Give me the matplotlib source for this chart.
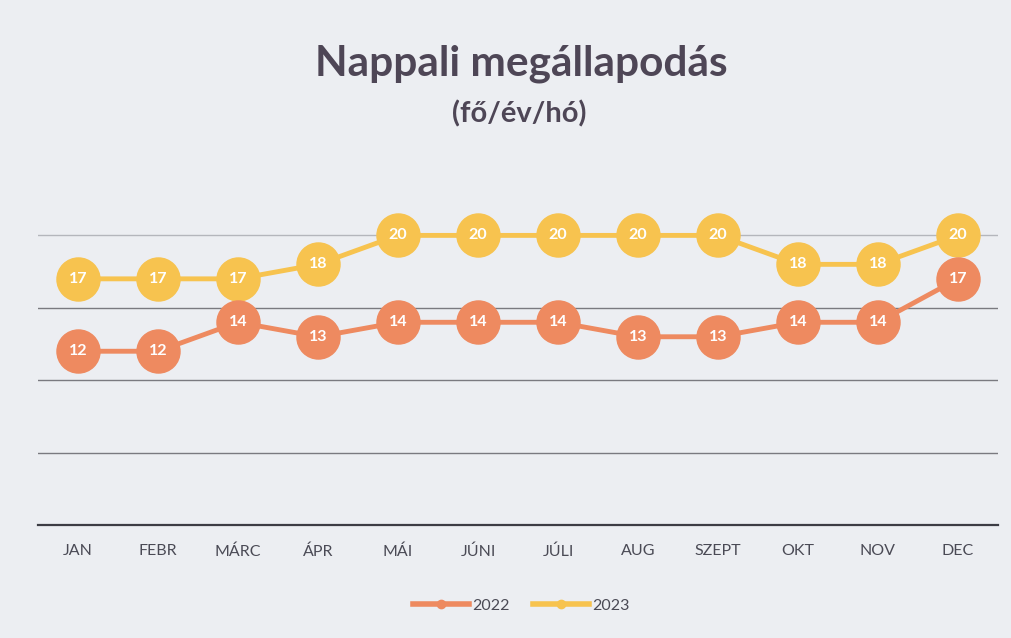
import matplotlib
matplotlib.use("Agg")
import matplotlib.pyplot as plt
from matplotlib.lines import Line2D

months = ["JAN", "FEBR", "MÁRC", "ÁPR", "MÁI", "JÚNI", "JÚLI", "AUG", "SZEPT", "OKT", "NOV", "DEC"]
values_2022 = [12, 12, 14, 13, 14, 14, 14, 13, 13, 14, 14, 17]
values_2023 = [17, 17, 17, 18, 20, 20, 20, 20, 20, 18, 18, 20]
series_names = ["2022", "2023"]

c22 = "#EE8A60"
c23 = "#F7C34F"
bg = "#ECEEF2"

plt.rcParams['font.family'] = ['Lato', 'DejaVu Sans']

fig = plt.figure(figsize=(10.12, 6.38), dpi=100, facecolor=bg)
ax = fig.add_axes([38/1012, 113/638, 960/1012, 362/638])
ax.set_facecolor(bg)

x = list(range(len(months)))
for vals, col, zo in [(values_2023, c23, 3), (values_2022, c22, 4)]:
    ax.plot(x, vals, color=col, lw=3.5, marker='o', markersize=31,
            markerfacecolor=col, markeredgecolor=col, zorder=zo)
    for xi, v in zip(x, vals):
        ax.text(xi, v, str(v), ha='center', va='center', color='white',
                fontsize=11.5, fontweight='bold', zorder=zo + 1)

ax.set_xlim(-0.5, 11.5)
ax.set_ylim(0, 25)
ax.set_yticks([0, 5, 10, 15, 20])
ax.yaxis.grid(True, color='#7a7a80', lw=1.0)
gl = ax.get_ygridlines()
gl[-1].set_color('#b4b6bc')
ax.set_axisbelow(True)
for s in ['top', 'right', 'left']:
    ax.spines[s].set_visible(False)
ax.spines['bottom'].set_color('#3c3c44')
ax.spines['bottom'].set_linewidth(1.6)
ax.tick_params(axis='y', left=False, labelleft=False)
ax.tick_params(axis='x', length=0, pad=14, labelsize=11.5, labelcolor='#4a4a55')
ax.set_xticks(x)
ax.set_xticklabels(months)

fig.text(0.515, 0.900, "Nappali megállapodás", ha='center', va='center',
         fontsize=30.5, fontweight='bold', color='#4e4656')
fig.text(0.513, 0.822, "(fő/év/hó)", ha='center', va='center',
         fontsize=21, fontweight='bold', color='#4e4656')

handles = [Line2D([0], [0], color=c22, lw=4, marker='o', markersize=6),
           Line2D([0], [0], color=c23, lw=4, marker='o', markersize=6)]
fig.legend(handles, series_names, loc='center', bbox_to_anchor=(0.515, 0.051),
           ncol=2, frameon=False, fontsize=11.5, labelcolor='#4a4a55',
           handlelength=3.5, handletextpad=0.2, columnspacing=1.5)

fig.savefig("out.png", dpi=100, facecolor=bg)
